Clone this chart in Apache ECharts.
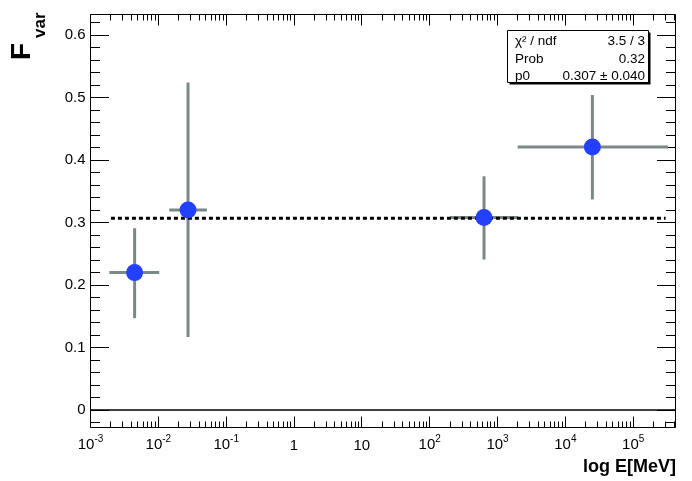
<!DOCTYPE html>
<html><head><meta charset="utf-8">
<script src="https://cdn.jsdelivr.net/npm/echarts@6/dist/echarts.min.js"></script>
<style>html,body{margin:0;padding:0;background:#fff}#c{width:692px;height:481px}</style>
</head><body><div id="c"></div>
<script>
// ---- data ----
const xCenter = [4.47e-3, 0.0274, 632, 2.5e4];
const xLow    = [1.9e-3, 0.0145, 200, 1.98e3];
const xHigh   = [1.03e-2, 0.052, 2.0e3, 3.25e5];
const yValue  = [0.220, 0.320, 0.308, 0.421];
const yLow    = [0.147, 0.117, 0.241, 0.337];
const yHigh   = [0.291, 0.524, 0.374, 0.504];
const fitP0 = 0.307;
const fitRange = [2.0e-3, 3.0e5];
const xRange = [1e-3, 4.2e5];
const yRange = [-0.0277, 0.6328];
const xTickExponents = [-3, -2, -1, 0, 1, 2, 3, 4, 5];
const yTickLabels = ['0', '0.1', '0.2', '0.3', '0.4', '0.5', '0.6'];
const statsNames  = ['χ² / ndf', 'Prob', 'p0'];
const statsValues = ['3.5 / 3', '0.32', '0.307 ± 0.040'];
const yTitleMain = 'F', yTitleSub = 'var';
const xTitle = 'log E[MeV]';

const FONT = '"Liberation Sans", Arial, Helvetica, sans-serif';

// ---- tick decorations (drawn through the axes' scales) ----
const tickItems = [];
for (let e = -3; e <= 5; e++) {
  for (let k = 1; k <= 9; k++) {
    const v = k * Math.pow(10, e);
    if (v >= xRange[0] * 0.999 && v <= xRange[1]) tickItems.push([v, yRange[0], 0, k === 1 ? 11 : 6]);
  }
}
for (let i = -1; i <= 31; i++) {
  const v = Math.round(i * 2) / 100;
  if (v >= yRange[0] && v <= yRange[1]) tickItems.push([xRange[0], v, 1, i % 5 === 0 ? 18.5 : 9.5]);
}

function seg(x1, y1, x2, y2, color, w) {
  return { type: 'line', shape: { x1, y1, x2, y2 }, style: { stroke: color, lineWidth: w } };
}

const errData = xCenter.map((x, i) => [x, yValue[i], xLow[i], xHigh[i], yLow[i], yHigh[i]]);
const ptData = xCenter.map((x, i) => [x, yValue[i]]);

const chart = echarts.init(document.getElementById('c'), null, { renderer: 'canvas' });
chart.setOption({
  backgroundColor: '#fff',
  animation: false,
  grid: { left: 90.5, right: 16.5, top: 14.5, bottom: 53.5, show: true, borderColor: '#000', borderWidth: 1, backgroundColor: 'transparent' },
  xAxis: {
    type: 'log', logBase: 10, min: xRange[0], max: xRange[1],
    axisLine: { show: false, onZero: false }, axisTick: { show: false }, splitLine: { show: false },
    axisLabel: {
      margin: 7, color: '#000', fontFamily: FONT, fontSize: 15,
      formatter: v => {
        const l = Math.log10(v), e = Math.round(l);
        if (Math.abs(l - e) > 1e-6 || xTickExponents.indexOf(e) < 0) return '';
        if (e === 0) return '{p|1}';
        if (e === 1) return '{p|10}';
        return '{b|10}{s|' + e + '}';
      },
      rich: {
        p: { fontFamily: FONT, fontSize: 15, color: '#000', lineHeight: 18, padding: [4, 0, 0, 0] },
        b: { fontFamily: FONT, fontSize: 15, color: '#000', lineHeight: 18, verticalAlign: 'bottom' },
        s: { fontFamily: FONT, fontSize: 10, color: '#000', lineHeight: 10, verticalAlign: 'top' }
      }
    }
  },
  yAxis: {
    type: 'value', min: yRange[0], max: yRange[1], minInterval: 0.1, maxInterval: 0.1,
    axisLine: { show: false }, axisTick: { show: false }, splitLine: { show: false },
    axisLabel: {
      margin: 5, color: '#000', fontFamily: FONT, fontSize: 15,
      formatter: v => {
        const i = Math.round(v * 10);
        if (Math.abs(v * 10 - i) > 1e-6) return '';
        return yTickLabels[i] !== undefined ? yTickLabels[i] : '';
      }
    }
  },
  series: [
    {
      type: 'custom', name: 'ticks', clip: false, silent: true, z: 1,
      encode: { x: 0, y: 1 },
      data: tickItems,
      renderItem: (params, api) => {
        const kind = api.value(2), len = api.value(3);
        if (kind === 0) {
          const v = api.value(0);
          const b = api.coord([v, yRange[0]]), t = api.coord([v, yRange[1]]);
          const x = Math.round(b[0] - 0.5) + 0.5;
          return { type: 'group', children: [seg(x, b[1], x, b[1] - len, '#000', 1), seg(x, t[1], x, t[1] + len, '#000', 1)] };
        } else {
          const v = api.value(1);
          const l = api.coord([xRange[0], v]), r = api.coord([xRange[1], v]);
          const y = Math.round(l[1] - 0.5) + 0.5;
          return { type: 'group', children: [seg(l[0], y, l[0] + len, y, '#000', 1), seg(r[0], y, r[0] - len, y, '#000', 1)] };
        }
      }
    },
    {
      type: 'custom', name: 'errors', clip: false, silent: true, z: 2,
      encode: { x: 0, y: 1 },
      data: errData,
      renderItem: (params, api) => {
        const c = api.coord([api.value(0), api.value(1)]);
        const l = api.coord([api.value(2), api.value(1)]);
        const r = api.coord([api.value(3), api.value(1)]);
        const lo = api.coord([api.value(0), api.value(4)]);
        const hi = api.coord([api.value(0), api.value(5)]);
        const col = '#7a8887';
        return { type: 'group', children: [seg(l[0], c[1], r[0], c[1], col, 3), seg(c[0], lo[1], c[0], hi[1], col, 3)] };
      }
    },
    {
      type: 'line', name: 'fit', z: 3, symbol: 'none', silent: true,
      data: [[fitRange[0], fitP0], [fitRange[1], fitP0]],
      lineStyle: { color: '#000', width: 3, type: [4, 3] },
      markLine: {
        silent: true, symbol: ['none', 'none'], label: { show: false },
        lineStyle: { color: '#000', width: 1.5, type: 'solid' },
        data: [{ yAxis: 0 }]
      }
    },
    {
      type: 'scatter', name: 'points', z: 4, silent: true,
      symbol: 'circle', symbolSize: 17,
      itemStyle: { color: '#2440ff', opacity: 1 },
      data: ptData
    }
  ],
  graphic: [
    { type: 'text', x: 36, y: 60, rotation: Math.PI / 2,
      style: { text: yTitleMain, fontFamily: FONT, fontWeight: 'bold', fontSize: 28, fill: '#000', align: 'left', verticalAlign: 'bottom' } },
    { type: 'text', x: 49, y: 38, rotation: Math.PI / 2,
      style: { text: yTitleSub, fontFamily: FONT, fontWeight: 'bold', fontSize: 17, fill: '#000', align: 'left', verticalAlign: 'bottom' } },
    { type: 'text', x: 676, y: 476,
      style: { text: xTitle, fontFamily: FONT, fontWeight: 'bold', fontSize: 18, fill: '#000', align: 'right', verticalAlign: 'bottom' } },
    { type: 'rect', shape: { x: 509.5, y: 32.5, width: 141, height: 52 }, style: { fill: '#000' }, z: 10 },
    { type: 'rect', shape: { x: 507.5, y: 30.5, width: 141, height: 52 }, style: { fill: '#fff', stroke: '#000', lineWidth: 1 }, z: 11 },
    ...statsNames.map((n, i) => ({ type: 'text', x: 515, y: 41 + i * 17.8, z: 12,
      style: { text: n, fontFamily: FONT, fontSize: 13.5, fill: '#000', align: 'left', verticalAlign: 'middle' } })),
    ...statsValues.map((n, i) => ({ type: 'text', x: 645, y: 41 + i * 17.8, z: 12,
      style: { text: n, fontFamily: FONT, fontSize: 13.5, fill: '#000', align: 'right', verticalAlign: 'middle' } }))
  ]
});
</script>
</body></html>
